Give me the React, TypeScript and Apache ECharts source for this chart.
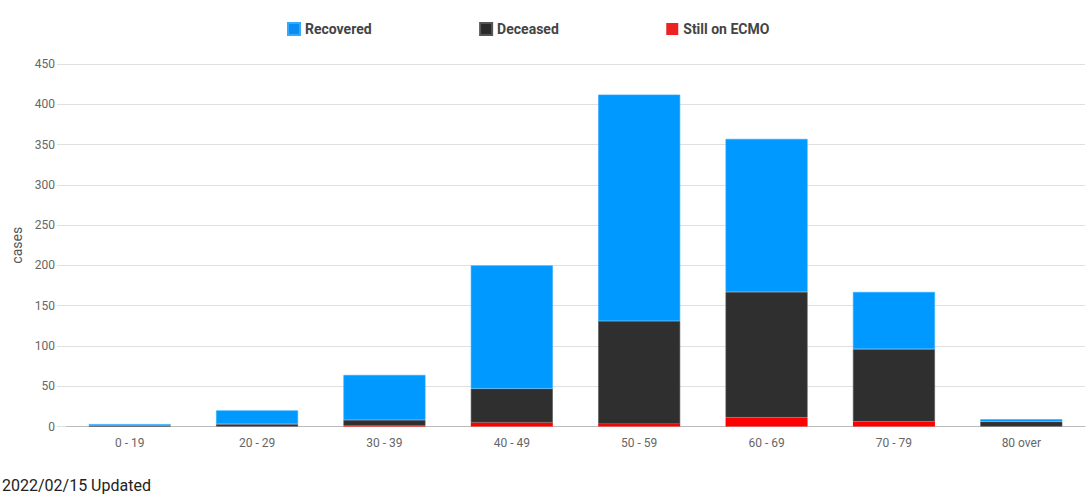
import React, { useEffect, useRef } from "react";
import * as echarts from "echarts";

const categories = ["0 - 19", "20 - 29", "30 - 39", "40 - 49", "50 - 59", "60 - 69", "70 - 79", "80 over"];
const recovered = [2, 17, 56, 153, 281, 190, 71, 3];
const deceased = [1, 3, 7, 42, 128, 156, 90, 6];
const ecmo = [0, 0, 1, 5, 3, 11, 6, 0];
const yTicks = [0, 50, 100, 150, 200, 250, 300, 350, 400, 450];

const FONT = "Roboto, 'Noto Sans', sans-serif";

export default function App() {
  const ref = useRef<HTMLDivElement>(null);
  useEffect(() => {
    document.body.style.margin = "0";
    if (!ref.current) return;
    const chart = echarts.init(ref.current, undefined, { renderer: "svg" });
    chart.setOption({
      animation: false,
      textStyle: { fontFamily: FONT },
      legend: {
        data: [
          { name: "Recovered", itemStyle: { color: "#0a8cf2" } },
          { name: "Deceased", itemStyle: { color: "#2b2b2b" } },
          { name: "Still on ECMO", itemStyle: { color: "#ee2222" } },
        ],
        left: 282,
        top: 17,
        icon: "rect",
        itemWidth: 12,
        itemHeight: 12,
        itemGap: 107.5,
        textStyle: { fontFamily: FONT, fontSize: 14, fontWeight: "bold", color: "#444" },
        selectedMode: false,
      },
      grid: { left: 66, right: 3, top: 64, bottom: 72.5, containLabel: false },
      xAxis: {
        type: "category",
        data: categories,
        axisLine: { show: true, lineStyle: { color: "#bbbbbb", width: 1 } },
        axisTick: { show: false },
        axisLabel: { color: "#666", fontSize: 12, fontFamily: FONT, margin: 10 },
      },
      yAxis: {
        type: "value",
        min: 0,
        max: yTicks[yTicks.length - 1],
        interval: 50,
        name: "cases",
        nameLocation: "middle",
        nameGap: 42,
        nameTextStyle: { color: "#555", fontSize: 14, fontFamily: FONT },
        axisLine: { show: false },
        axisTick: { show: true, length: 9, lineStyle: { color: "#e0e0e0" } },
        axisLabel: { color: "#666", fontSize: 12, fontFamily: FONT, margin: 11 },
        splitLine: { lineStyle: { color: "#e0e0e0" } },
      },
      series: [
        {
          name: "Still on ECMO",
          type: "bar",
          stack: "a",
          barWidth: 82,
          data: ecmo,
          itemStyle: { color: "#ff0000" },
        },
        {
          name: "Deceased",
          type: "bar",
          stack: "a",
          barWidth: 82,
          data: deceased,
          itemStyle: { color: "#2f2f2f", borderColor: "#555", borderWidth: 0.6 },
        },
        {
          name: "Recovered",
          type: "bar",
          stack: "a",
          barWidth: 82,
          data: recovered,
          itemStyle: { color: "#0099ff", borderColor: "#33aaff", borderWidth: 0.6 },
        },
      ],
      graphic: [
        {
          type: "text",
          left: 2,
          top: 477,
          style: { text: "2022/02/15 Updated", fontSize: 16, fontFamily: FONT, fill: "#222" },
        },
      ],
    });
    return () => chart.dispose();
  }, []);
  return <div ref={ref} style={{ width: 1088, height: 499 }} />;
}
